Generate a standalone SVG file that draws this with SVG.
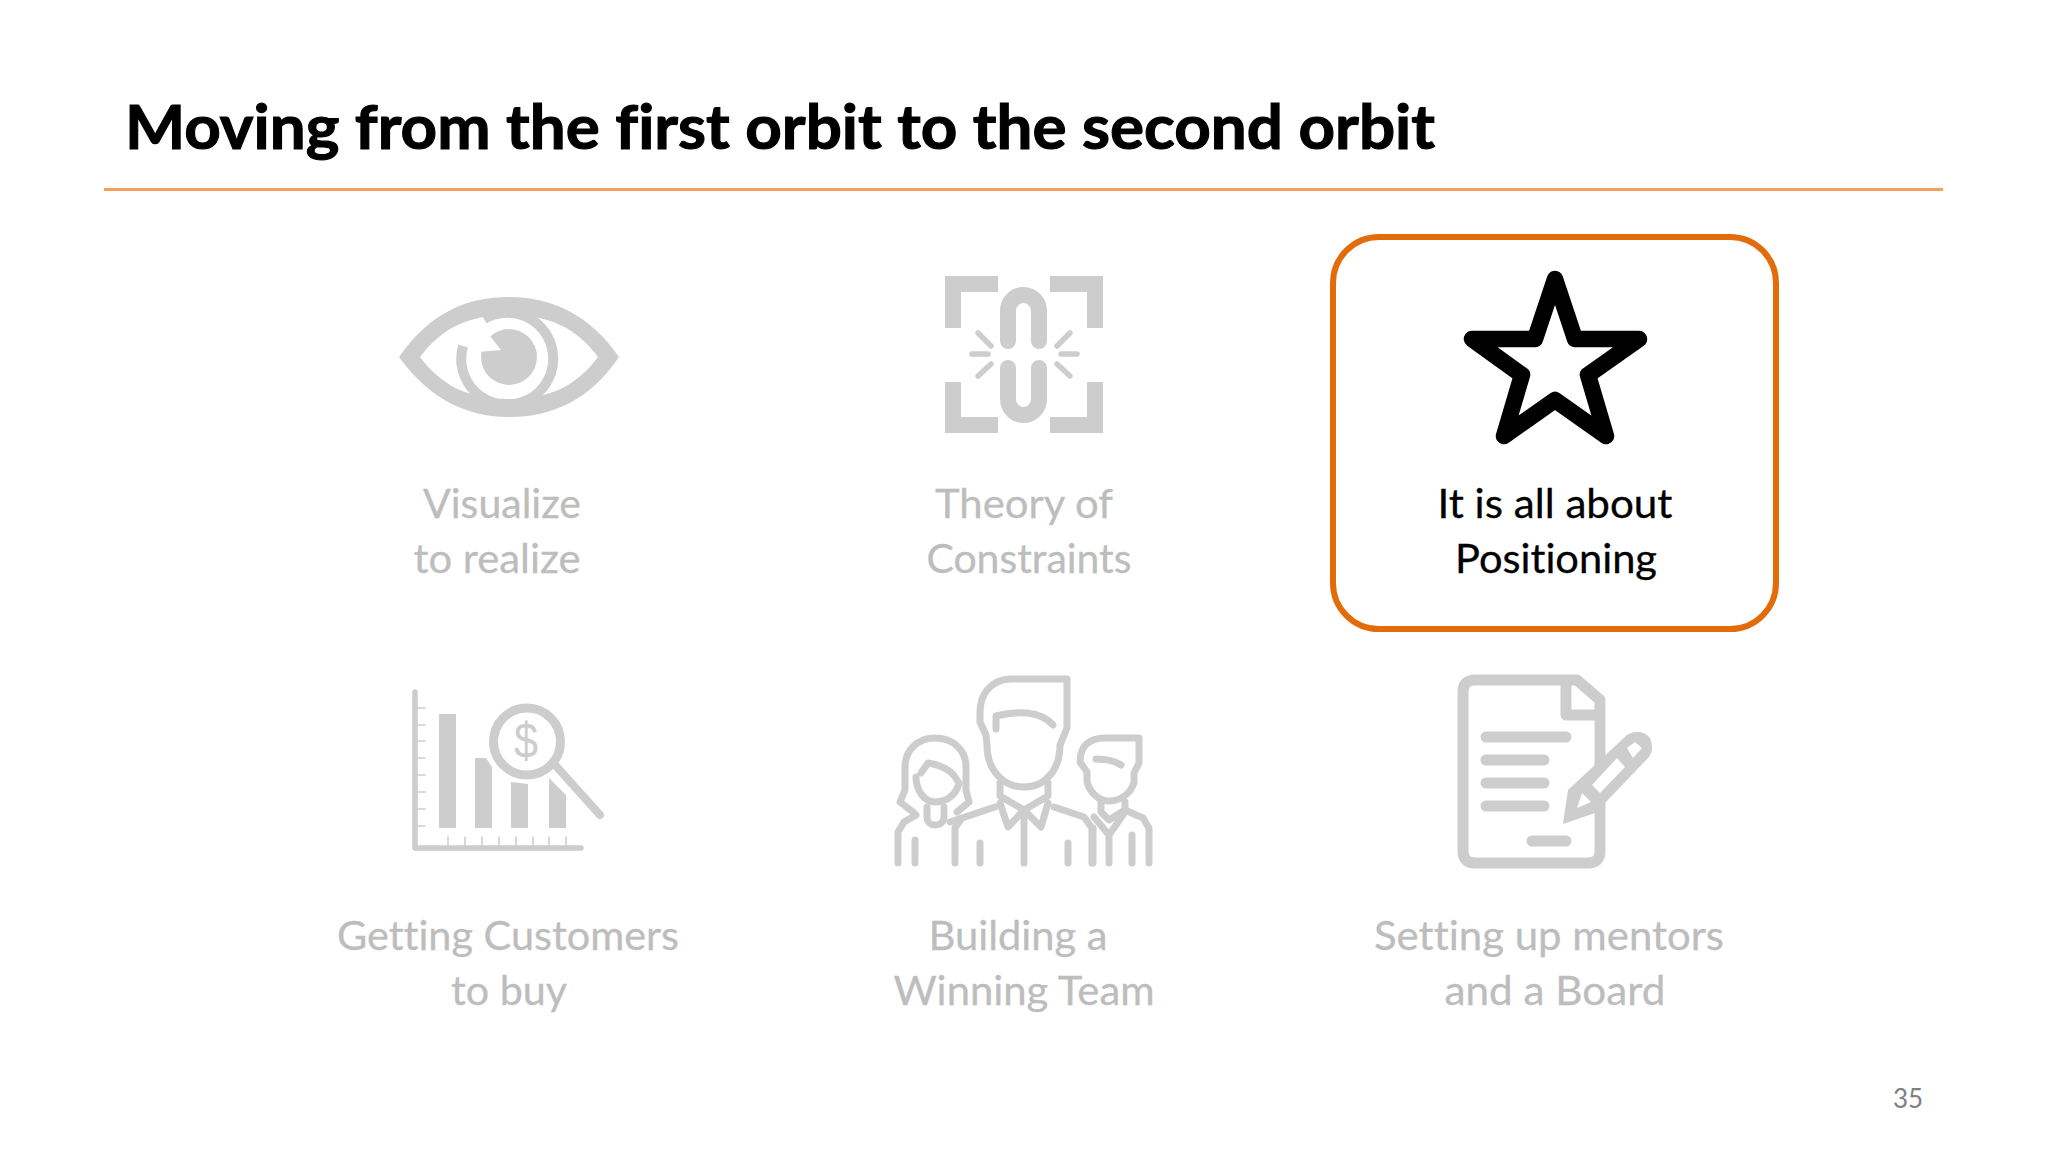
<svg xmlns="http://www.w3.org/2000/svg" width="2048" height="1152" viewBox="0 0 2048 1152">
<style>
text{font-family:"Lato","Open Sans","Noto Sans",sans-serif;font-variant-ligatures:none}
.title{font-size:61px;font-weight:700;fill:#000;stroke:#000;stroke-width:1.1px}
.lbl{font-size:41px;fill:#BDBDBD;stroke:#BDBDBD;stroke-width:.3px}
.on{fill:#000;stroke:#000}
.f{fill:#CDCDCD;stroke:none}
.s{fill:none;stroke:#CDCDCD;stroke-linecap:round;stroke-linejoin:round}
.w{fill:#fff;stroke:none}
</style>
<rect width="2048" height="1152" fill="#fff"/>
<g id="title"><text class="title" x="125" y="149" textLength="1310" lengthAdjust="spacingAndGlyphs">Moving from the first orbit to the second orbit</text></g>
<rect id="title-rule" x="104" y="188" width="1839" height="3" fill="#F2A05A"/>

<g id="node-visualize">
<path class="f" d="M399 357C430 312 468 297 509 297C552 297 590 315 619 357C590 400 552 417 509 417C468 417 430 400 399 357Z"/>
<path class="w" d="M420 357C442 328 468 315 509 315C550 315 576 328 598 357C576 386 550 399 509 399C468 399 442 386 420 357Z"/>
<path class="s" stroke-width="10" style="stroke-linecap:butt" d="M484 319A46 46 0 1 1 463 346"/>
<circle class="f" cx="509" cy="357" r="28"/>
<path class="w" d="M478 335L490 336L501 350L478 352Z"/>
<text class="lbl" text-anchor="middle" x="502" y="518" textLength="158" lengthAdjust="spacingAndGlyphs">Visualize</text>
<text class="lbl" text-anchor="middle" x="497" y="573" textLength="167" lengthAdjust="spacingAndGlyphs">to realize</text>
</g>

<g id="node-theory">
<path class="f" d="M945 276H998V292H961V328H945ZM1103 276H1050V292H1087V328H1103ZM945 433H998V417H961V382H945ZM1103 433H1050V417H1087V382H1103Z"/>
<path class="s" stroke-width="16" d="M1008 341V311A15.5 16 0 0 1 1039 311V341M1008 368V399A15.5 16 0 0 0 1039 399V368"/>
<path class="s" stroke-width="5.5" d="M972 354H988M1061 354H1077M978 333L991 346M1070 333L1057 346M991 364L978 376M1057 364L1070 376"/>
<text class="lbl" text-anchor="middle" x="1024" y="518" textLength="178" lengthAdjust="spacingAndGlyphs">Theory of</text>
<text class="lbl" text-anchor="middle" x="1029" y="573" textLength="205" lengthAdjust="spacingAndGlyphs">Constraints</text>
</g>

<g id="node-positioning">
<rect x="1333" y="237" width="443" height="392" rx="46" fill="#fff" stroke="#E36C0A" stroke-width="6"/>
<path d="M1555 279L1575 339H1639L1588 375L1606 436L1555 400L1504 436L1522 375L1472 339H1535Z" fill="none" stroke="#000" stroke-width="16.5" stroke-linejoin="round"/>
<text class="lbl on" text-anchor="middle" x="1555" y="518" textLength="235" lengthAdjust="spacingAndGlyphs">It is all about</text>
<text class="lbl on" text-anchor="middle" x="1556" y="573" textLength="202" lengthAdjust="spacingAndGlyphs">Positioning</text>
</g>

<g id="node-customers">
<path class="s" stroke-width="5.5" d="M415 692V848H581"/>
<path class="s" stroke-width="1.5" d="M417 708H425M417 725H425M417 741H425M417 758H425M417 775H425M417 792H425M417 809H425M417 826H425M448 837V847M465 837V847M482 837V847M499 837V847M516 837V847M533 837V847M549 837V847M566 837V847"/>
<path class="f" d="M439 714H456V828H439ZM475 758H486L492 767V828H475ZM511 782L528 784V828H511ZM549 778L566 795V828H549Z"/>
<circle class="s" cx="527" cy="741.5" r="33.5" stroke-width="9"/>
<path class="s" stroke-width="8" d="M556 766L600 815"/>
<text x="526" y="758" text-anchor="middle" font-size="50" fill="#CDCDCD" textLength="24" lengthAdjust="spacingAndGlyphs" style="font-family:'Liberation Sans',sans-serif">$</text>
<text class="lbl" text-anchor="middle" x="508" y="950" textLength="342" lengthAdjust="spacingAndGlyphs">Getting Customers</text>
<text class="lbl" text-anchor="middle" x="509" y="1005" textLength="116" lengthAdjust="spacingAndGlyphs">to buy</text>
</g>

<g id="node-team">
<g class="s" stroke-width="7">
<path d="M1067 679V728L1060 745C1060 770 1045 787 1024 787C1003 787 987 770 987 745L986 735L980 722V712C980 695 990 680 1010 679Z"/>
<path d="M996 729V716C1015 711 1040 710 1053 725"/>
<path d="M1000 783V796L1024 810L1048 796V783M1000 803L1008 827L1024 810L1041 827L1048 803M1024 810V863"/>
<path d="M995 807L962 818L955 828V863M1054 807L1084 817L1092 828V863M980 843V863M1068 843V863"/>
<path d="M913 812L900 802L905 790V767C905 750 918 738 935 738C953 738 966 750 966 767V790L969 802L957 812"/>
<path d="M916 777C916 790 924 802 935 802C948 802 957 793 959 783M921 773L928 763C940 765 952 770 957 780"/>
<path d="M927 807V817C927 822 931 825 935 825C940 825 944 822 944 817V807"/>
<path d="M916 815L904 822L898 832V863M915 840V863M950 822L962 818"/>
<path d="M1139 738H1105C1090 738 1080 745 1080 762L1087 772V782C1090 792 1098 801 1109 801C1122 801 1131 792 1134 783V773L1139 763Z"/>
<path d="M1096 759C1105 759 1115 761 1121 765"/>
<path d="M1101 802V812L1109 820L1125 810V802M1094 817L1109 835L1125 812M1109 835V863M1093 828V863M1125 810L1143 818L1149 828V863M1132 835V863"/>
</g>
<text class="lbl" text-anchor="middle" x="1018" y="950" textLength="179" lengthAdjust="spacingAndGlyphs">Building a</text>
<text class="lbl" text-anchor="middle" x="1024" y="1005" textLength="261" lengthAdjust="spacingAndGlyphs">Winning Team</text>
</g>

<g id="node-mentors">
<path class="s" stroke-width="11" d="M1577 680H1475Q1463 680 1463 692V851Q1463 863 1475 863H1588Q1600 863 1600 851V700L1577 680M1566 682V715H1600"/>
<path class="s" stroke-width="11" d="M1486 737H1566M1486 760H1544M1486 783H1544M1486 806H1544M1532 841H1566"/>
<path class="f" d="M1563 824L1568 790L1627 735Q1640 727 1650 738Q1655 750 1648 758L1605 803L1595 813Z"/>
<path class="w" d="M1592 785L1617 758L1625 767L1600 793ZM1627 748L1635 742L1642 748L1633 758ZM1577 808L1582 793L1591 802Z"/>
<text class="lbl" text-anchor="middle" x="1549" y="950" textLength="350" lengthAdjust="spacingAndGlyphs">Setting up mentors</text>
<text class="lbl" text-anchor="middle" x="1555" y="1005" textLength="221" lengthAdjust="spacingAndGlyphs">and a Board</text>
</g>
<text id="page-number" x="1908" y="1108" text-anchor="middle" font-size="26" fill="#808080">35</text>
</svg>
